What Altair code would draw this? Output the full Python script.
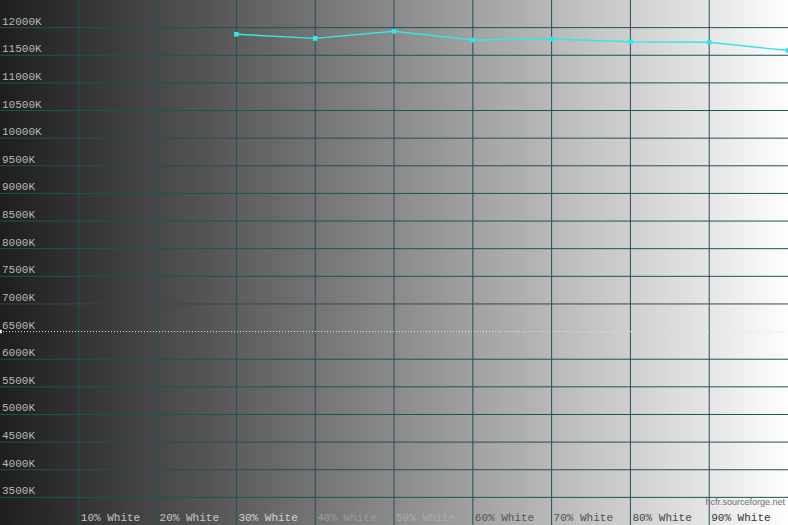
import altair as alt
import pandas as pd

# data
levels = [30, 40, 50, 60, 70, 80, 90, 100]
cct = [11880, 11805, 11935, 11775, 11795, 11745, 11735, 11585]
x_ticks = [10, 20, 30, 40, 50, 60, 70, 80, 90]
x_labels = ["10% White", "20% White", "30% White", "40% White", "50% White",
            "60% White", "70% White", "80% White", "90% White"]
x_label_colors = ["#c4c4c4", "#c8c8c8", "#d4d4d4", "#9c9c9c", "#acacac",
                  "#555555", "#505050", "#454545", "#353535"]
y_ticks = [3500, 4000, 4500, 5000, 5500, 6000, 6500, 7000, 7500, 8000, 8500,
           9000, 9500, 10000, 10500, 11000, 11500, 12000]
reference_k = 6500

W, H = 788, 525
xs = alt.Scale(domain=[0, 100], nice=False, zero=False)
ys = alt.Scale(domain=[3000, 12500], nice=False, zero=False)

one = pd.DataFrame({"k": [0]})

bg = alt.Chart(one).mark_rect(
    fill=alt.Gradient(
        gradient="linear", x1=0, x2=1, y1=0, y2=0,
        stops=[alt.GradientStop(color="#1e1e1e", offset=0),
               alt.GradientStop(color="#525252", offset=0.25),
               alt.GradientStop(color="#8a8a8a", offset=0.5),
               alt.GradientStop(color="#c4c4c4", offset=0.75),
               alt.GradientStop(color="#fdfdfd", offset=1)]),
    strokeWidth=0,
).encode(x=alt.value(0), x2=alt.value(W), y=alt.value(0), y2=alt.value(H))

grid_color = "#22505a"

vgrid = alt.Chart(pd.DataFrame({"x": x_ticks})).mark_rule(
    color=grid_color, strokeWidth=1).encode(
    x=alt.X("x:Q", scale=xs, axis=None))
hgrid = alt.Chart(pd.DataFrame({"y": y_ticks})).transform_filter(
    alt.datum.y != reference_k).mark_rule(color=grid_color, strokeWidth=1).encode(
    y=alt.Y("y:Q", scale=ys, axis=None))

ylab_df = pd.DataFrame({"y": y_ticks, "label": [f"{v}K" for v in y_ticks]})
ylab = alt.Chart(ylab_df).mark_text(
    align="left", baseline="alphabetic", dx=0, dy=-3,
    font="Liberation Mono", fontSize=11, color="#b8b8b8").encode(
    x=alt.value(2), y=alt.Y("y:Q", scale=ys), text="label:N")

ref = alt.Chart(one).mark_rule(color="#e0e0e0", strokeDash=[1, 2], strokeWidth=1).encode(
    x=alt.datum(0, scale=xs), x2=alt.datum(100), y=alt.datum(reference_k, scale=ys))
ref_pt = alt.Chart(one).mark_square(color="#ffffff", size=12, opacity=1).encode(
    x=alt.datum(0, scale=xs), y=alt.datum(reference_k, scale=ys))

df = pd.DataFrame({"level": levels, "cct": cct})
line = alt.Chart(df).mark_line(color="#35e6e6", strokeWidth=1.4).encode(
    x=alt.X("level:Q", scale=xs), y=alt.Y("cct:Q", scale=ys))
pts = alt.Chart(df).mark_square(color="#35e6e6", size=22, opacity=1).encode(
    x=alt.X("level:Q", scale=xs), y=alt.Y("cct:Q", scale=ys))

lab_df = pd.DataFrame({"x": x_ticks, "label": x_labels})
xlab = alt.Chart(lab_df).mark_text(
    align="left", baseline="alphabetic", dx=2, dy=-4,
    font="Liberation Mono", fontSize=11).encode(
    x=alt.X("x:Q", scale=xs),
    y=alt.datum(3000, scale=ys),
    text="label:N",
    color=alt.Color("label:N", scale=alt.Scale(domain=x_labels, range=x_label_colors), legend=None))

wm = alt.Chart(one).mark_text(
    text="hcfr.sourceforge.net", align="right", baseline="alphabetic",
    dx=-3, dy=8, font="Liberation Sans", fontSize=9, color="#707070").encode(
    x=alt.datum(100, scale=xs), y=alt.datum(3500, scale=ys))

chart = alt.layer(bg, vgrid, hgrid, ref, line, pts, ref_pt, ylab, xlab, wm).properties(
    width=W, height=H, padding=0, autosize=alt.AutoSizeParams(type="none")
).configure_view(stroke=None).configure(background="#1e1e1e")

chart.save("out.html", embed_options={"renderer": "svg", "actions": False})
